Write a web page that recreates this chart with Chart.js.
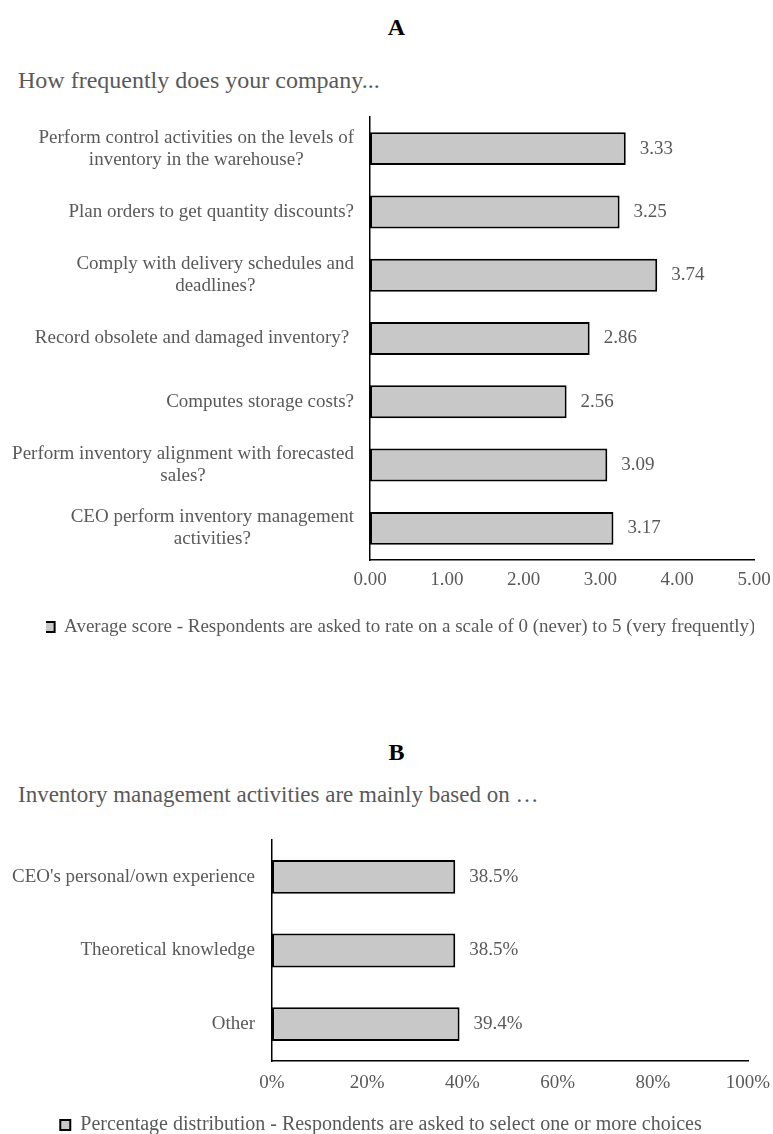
<!DOCTYPE html>
<html>
<head>
<meta charset="utf-8">
<title>Inventory management practices</title>
<script src="https://cdn.jsdelivr.net/npm/chart.js@4.4.1/dist/chart.umd.min.js"></script>
<style>
  html, body { margin: 0; padding: 0; background: #fff; overflow: hidden; }
  body { width: 773px; height: 1134px; position: relative; font-family: "Liberation Serif", "Times New Roman", serif; }
  .panel { position: absolute; left: 10px; width: 773px; text-align: center; font-weight: bold; font-size: 24px; line-height: 30px; color: #000; }
  .question { position: absolute; left: 18px; line-height: 30px; color: #595959; white-space: nowrap; }
  canvas { position: absolute; left: 0; }
</style>
</head>
<body>
<div class="panel" style="top:12px">A</div>
<div class="question" style="top:65px;font-size:24px">How frequently does your company...</div>
<canvas id="chartA" width="773" height="560" style="top:100px;width:773px;height:560px"></canvas>

<div class="panel" style="top:737px">B</div>
<div class="question" style="top:780px;font-size:23px">Inventory management activities are mainly based on …</div>
<canvas id="chartB" width="773" height="330" style="top:820px;width:773px;height:330px"></canvas>

<script>
// Panel A: frequency of inventory practices (average score, 0–5)
const practiceLabels = [
  ["Perform control activities on the levels of", "inventory in the warehouse?"],
  "Plan orders to get quantity discounts?",
  ["Comply with delivery schedules and", "deadlines?"],
  "Record obsolete and damaged inventory? ",
  "Computes storage costs?",
  ["Perform inventory alignment with forecasted", "sales?"],
  ["CEO perform inventory management", "activities?"]
];
const practiceScores = [3.33, 3.25, 3.74, 2.86, 2.56, 3.09, 3.17];
const scoreAxis = [0, 5, 1]; // min, max, step
const scoreSeriesName = "Average score - Respondents are asked to rate on a scale of 0 (never) to 5 (very frequently)";

// Panel B: what inventory management is based on (% of respondents)
const basisLabels = ["CEO's personal/own experience", "Theoretical knowledge", "Other"];
const basisShares = [38.5, 38.5, 39.4];
const shareAxis = [0, 100, 20]; // min, max, step
const shareSeriesName = "Percentage distribution - Respondents are asked to select one or more choices";

const FONT = '"Liberation Serif", "Times New Roman", serif';
const GRAY = '#595959';
const BAR_FILL = '#c8c8c8';
const INK = '#000';

Chart.defaults.font.family = FONT;
Chart.defaults.font.size = 19;
Chart.defaults.color = GRAY;

// Category labels: each block sits against the axis, its lines centred within the block
const wrappedCategoryLabels = {
  id: 'wrappedCategoryLabels',
  afterDraw(chart, args, opts) {
    const { ctx, chartArea } = chart;
    const yScale = chart.scales.y;
    const right = chartArea.left - opts.gap;
    ctx.save();
    ctx.font = `${opts.size}px ${FONT}`;
    ctx.fillStyle = opts.color;
    ctx.textAlign = 'center';
    ctx.textBaseline = 'middle';
    chart.data.labels.forEach((label, i) => {
      const lines = Array.isArray(label) ? label : [label];
      const blockW = Math.max(...lines.map(l => ctx.measureText(l).width));
      const cx = right - blockW / 2;
      const cy = yScale.getPixelForValue(i);
      lines.forEach((line, j) => {
        ctx.fillText(line, cx, cy + (j - (lines.length - 1) / 2) * opts.lineHeight);
      });
    });
    ctx.restore();
  }
};

// Value printed just past the end of each bar
const barValueLabels = {
  id: 'barValueLabels',
  afterDatasetsDraw(chart, args, opts) {
    const { ctx } = chart;
    const meta = chart.getDatasetMeta(0);
    const values = chart.data.datasets[0].data;
    ctx.save();
    ctx.font = `${opts.size}px ${FONT}`;
    ctx.fillStyle = opts.color;
    ctx.textAlign = 'left';
    ctx.textBaseline = 'middle';
    meta.data.forEach((bar, i) => {
      ctx.fillText(values[i].toFixed(opts.decimals) + opts.suffix, bar.x + opts.offset, bar.y);
    });
    ctx.restore();
  }
};

function buildChart(canvasId, cfg) {
  return new Chart(document.getElementById(canvasId), {
    type: 'bar',
    data: {
      labels: cfg.labels,
      datasets: [{
        label: cfg.seriesName,
        data: cfg.values,
        backgroundColor: BAR_FILL,
        borderColor: INK,
        borderWidth: 2,
        borderSkipped: false,
        barPercentage: cfg.barShare,
        categoryPercentage: 1
      }]
    },
    options: {
      indexAxis: 'y',
      responsive: false,
      animation: false,
      devicePixelRatio: 1,
      layout: { padding: cfg.padding },
      scales: {
        x: {
          min: cfg.axis[0],
          max: cfg.axis[1],
          ticks: {
            stepSize: cfg.axis[2],
            padding: 0,
            color: GRAY,
            font: { size: 19 },
            callback: cfg.tickFormat
          },
          // tick marks are hidden with the grid; their length only spaces the labels
          grid: { display: false, drawTicks: true, tickLength: cfg.tickGap },
          border: { display: true, color: INK, width: 1.5 },
          afterFit: s => { s.height = cfg.xHeight; }
        },
        y: {
          ticks: { display: false },
          grid: { display: false, drawTicks: false },
          border: { display: true, color: INK, width: 1.5 },
          afterFit: s => { s.width = cfg.yWidth; }
        }
      },
      plugins: {
        legend: {
          position: 'bottom',
          labels: {
            boxWidth: 10,
            boxHeight: 10,
            padding: 10,
            color: GRAY,
            font: { size: cfg.legendSize }
          }
        },
        tooltip: { enabled: false },
        wrappedCategoryLabels: { gap: cfg.labelGap, size: 19, lineHeight: 22, color: GRAY },
        barValueLabels: { offset: 14, size: 19, color: GRAY, decimals: cfg.decimals, suffix: cfg.suffix }
      }
    },
    plugins: [wrappedCategoryLabels, barValueLabels]
  });
}

buildChart('chartA', {
  labels: practiceLabels,
  values: practiceScores,
  seriesName: scoreSeriesName,
  axis: scoreAxis,
  tickFormat: v => v.toFixed(2),
  decimals: 2,
  suffix: '',
  barShare: 0.52,
  padding: { top: 17, left: 46, right: 19, bottom: 13.5 },
  xHeight: 47.5,
  yWidth: 324,
  tickGap: 9,
  labelGap: 16,
  legendSize: 19
});

buildChart('chartB', {
  labels: basisLabels,
  values: basisShares,
  seriesName: shareSeriesName,
  axis: shareAxis,
  tickFormat: v => v + '%',
  decimals: 1,
  suffix: '%',
  barShare: 0.46,
  padding: { top: 20, left: 14, right: 25, bottom: 5 },
  xHeight: 44,
  yWidth: 258,
  tickGap: 11,
  labelGap: 17,
  legendSize: 20
});
</script>
</body>
</html>
